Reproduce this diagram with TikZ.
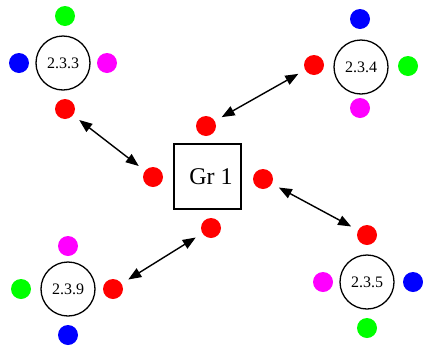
\documentclass[tikz,border=0pt]{standalone}
\usepackage{fontspec}
\setmainfont{Liberation Serif}
\usetikzlibrary{arrows.meta}
\definecolor{portred}{RGB}{255,0,0}
\definecolor{portgreen}{RGB}{0,255,0}
\definecolor{portblue}{RGB}{0,0,255}
\definecolor{portmagenta}{RGB}{255,0,255}

\begin{document}
\begin{tikzpicture}[
  x=1pt,y=-1pt,
  group/.style={draw,line width=1.4pt,minimum width=67pt,minimum height=65pt,
                inner sep=0pt,font=\fontsize{24}{24}\selectfont},
  sub/.style={draw,circle,line width=1.3pt,minimum size=54pt,inner sep=0pt,
              font=\fontsize{16}{16}\selectfont},
  port/.style={circle,minimum size=20pt,inner sep=0pt,outer sep=0pt},
  link/.style={{Triangle[length=13pt,width=10pt]}-{Triangle[length=13pt,width=10pt]},
               line width=1.4pt,shorten <=8pt,shorten >=8pt}
]
\useasboundingbox (0,0) rectangle (423,346);

% central group
\node[group] (gr1) at (207.5,176.5) {\hspace*{7pt}Gr 1};
\node[port,fill=portred] (gl) at (153,177) {};
\node[port,fill=portred] (gt) at (206,126) {};
\node[port,fill=portred] (gr) at (263,179) {};
\node[port,fill=portred] (gb) at (211,228) {};

% 2.3.3
\node[sub] (s233) at (63,63) {2.3.3};
\node[port,fill=portgreen] (s233n) at (65,16) {};
\node[port,fill=portblue] (s233w) at (19,63) {};
\node[port,fill=portmagenta] (s233e) at (107,63) {};
\node[port,fill=portred] (s233s) at (65,109) {};

% 2.3.4
\node[sub] (s234) at (361,67) {2.3.4};
\node[port,fill=portblue] (s234n) at (360,19) {};
\node[port,fill=portgreen] (s234e) at (408,66) {};
\node[port,fill=portmagenta] (s234s) at (360,108) {};
\node[port,fill=portred] (s234w) at (314,65) {};

% 2.3.9
\node[sub] (s239) at (68,289) {2.3.9};
\node[port,fill=portmagenta] (s239n) at (68,246) {};
\node[port,fill=portgreen] (s239w) at (21,289) {};
\node[port,fill=portblue] (s239s) at (68,335) {};
\node[port,fill=portred] (s239e) at (113,289) {};

% 2.3.5
\node[sub] (s235) at (367,282) {2.3.5};
\node[port,fill=portred] (s235n) at (367,235) {};
\node[port,fill=portmagenta] (s235w) at (323,282) {};
\node[port,fill=portblue] (s235e) at (413,282) {};
\node[port,fill=portgreen] (s235s) at (367,328) {};

% links
\draw[link] (s233s) -- (gl);
\draw[link] (gt) -- (s234w);
\draw[link] (gr) -- (s235n);
\draw[link] (gb) -- (s239e);
\end{tikzpicture}
\end{document}
